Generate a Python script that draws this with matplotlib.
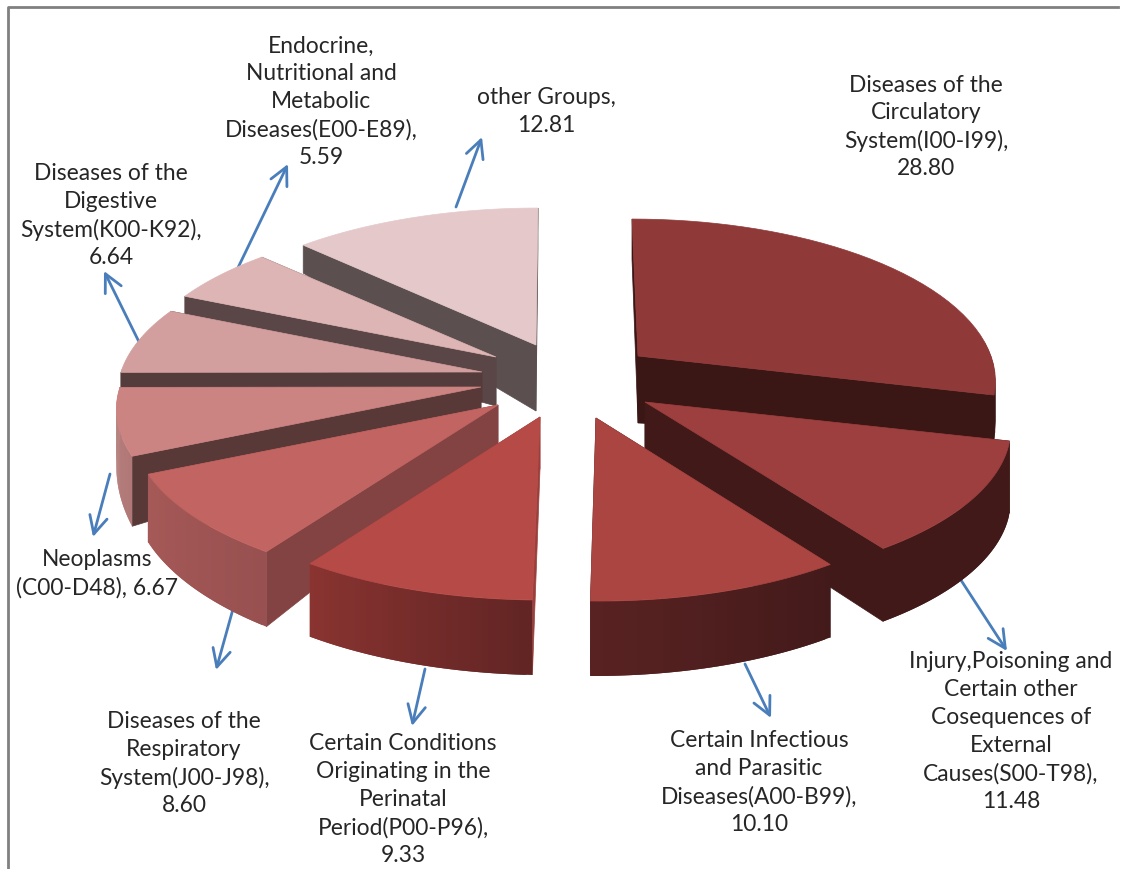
import numpy as np
import matplotlib
matplotlib.use("Agg")
import matplotlib.pyplot as plt

plt.rcParams['font.family'] = ['Lato', 'DejaVu Sans']

# data, clockwise from 12 o'clock
noms = ["Diseases of the\nCirculatory\nSystem(I00-I99),",
        "Injury,Poisoning and\nCertain other\nCosequences of\nExternal\nCauses(S00-T98),",
        "Certain Infectious\nand Parasitic\nDiseases(A00-B99),",
        "Certain Conditions\nOriginating in the\nPerinatal\nPeriod(P00-P96),",
        "Diseases of the\nRespiratory\nSystem(J00-J98),",
        "Neoplasms\n(C00-D48),",
        "Diseases of the\nDigestive\nSystem(K00-K92),",
        "Endocrine,\nNutritional and\nMetabolic\nDiseases(E00-E89),",
        "other Groups,"]
valeurs = [28.80, 11.48, 10.10, 9.33, 8.60, 6.67, 6.64, 5.59, 12.81]

# look of the slices
couleurs = ["#8F3938", "#9C3F3E", "#AA4542", "#B64A47", "#C26461",
            "#CB8482", "#D29E9E", "#DDB5B4", "#E5C9CA"]
faces = ["#3A1615", "#401918", "#431A1A", "#9A3F3B", "#834342",
         "#593838", "#553C3C", "#5A4646", "#5B504F"]
rim_debut = ["#3A1615", "#401918", "#431A1A", "#622524", "#985050",
             "#B07876", "#553C3C", "#5A4646", "#5B504F"]
rim_fin = ["#3A1615", "#401918", "#5A2222", "#8A3431", "#A65A58",
           "#B98584", "#553C3C", "#5A4646", "#5B504F"]
# pulled out position of each slice (like explode), pixels
apex_x = [638, 645, 596, 540, 498, 481, 482, 496, 536]
apex_y = [357, 403, 419, 418, 406, 388, 373, 358, 346]
# thickness: at the point, at first edge, at last edge
ep_apex = [67, 65, 60, 52, 39, 33, 30, 49, 66]
ep_debut = [40, 72, 73, 75, 75, 70, 30, 24, 28]
ep_fin = [45, 73, 75, 73, 68, 50, 30, 28, 40]
ordre = [8, 7, 6, 5, 0, 4, 1, 3, 2]

rayon_x = [353, 361, 360, 362, 362, 361, 361, 361, 361]
penche = [-6, -8, -4, -2, 0, 0, 0, 0, 2]
ry = 160
persp = 0.144

# labels: centre x, y of first line
label_x = [926, 1011, 759, 403, 184, 97, 111, 321, 546]
label_y = [85, 662, 741, 744, 722, 560, 174, 46, 98]
interligne = 27.9

# arrows from the pie to the labels
fleches = {1: (957, 575, 1007, 652), 2: (745, 665, 771, 719),
           3: (425, 670, 412, 727), 4: (233, 610, 216, 671),
           5: (110, 475, 93, 538), 6: (142, 349, 104, 272),
           7: (234, 277, 288, 165), 8: (456, 208, 482, 138)}


def bord(i, theta):
    t = np.radians(theta)
    s = 1 - persp * np.cos(t)
    x = apex_x[i] + rayon_x[i] * np.sin(t) * s + penche[i] * np.cos(t)
    y = apex_y[i] - ry * np.cos(t) * s
    return x, y


def melange(c1, c2, f):
    a = np.array(matplotlib.colors.to_rgb(c1))
    b = np.array(matplotlib.colors.to_rgb(c2))
    return a + (b - a) * f


fig = plt.figure(figsize=(11.26, 8.7), dpi=100)
ax = fig.add_axes([0, 0, 1, 1])
ax.set_xlim(0, 1126)
ax.set_ylim(870, 0)
ax.axis("off")

# chart frame, only top and left show
ax.plot([8, 8, 1118], [870, 8, 8], color="#808080", lw=2, zorder=1)

for k in fleches:
    x0, y0, x1, y1 = fleches[k]
    ax.annotate("", xy=(x1, y1), xytext=(x0, y0), zorder=2,
                arrowprops=dict(arrowstyle="->", color="#4A7EBB", lw=2,
                                mutation_scale=32, shrinkA=0, shrinkB=0))

cumul = np.cumsum([0] + valeurs)
angles = cumul / cumul[-1] * 360

z = 3
for i in ordre:
    a0, a1 = angles[i], angles[i + 1]
    ax0, ay0 = apex_x[i], apex_y[i]
    thetas = np.linspace(a0, a1, 40)

    # flat cut faces
    for th, ep in [(a0, ep_debut[i]), (a1, ep_fin[i])]:
        x, y = bord(i, th)
        ax.fill([ax0, x, x, ax0], [ay0, y, y + ep, ay0 + ep_apex[i]],
                color=faces[i], lw=0.5, zorder=z)
    z += 1

    # outer rim, front part only; strips overlap the next one so no seams show
    for j in range(len(thetas) - 1):
        t0, t1 = thetas[j], thetas[min(j + 2, len(thetas) - 1)]
        if t1 < 90 or t0 > 270:
            continue
        f0 = (t0 - a0) / (a1 - a0)
        f1 = (t1 - a0) / (a1 - a0)
        e0 = ep_debut[i] + (ep_fin[i] - ep_debut[i]) * f0
        e1 = ep_debut[i] + (ep_fin[i] - ep_debut[i]) * f1
        x0, y0 = bord(i, t0)
        x1, y1 = bord(i, t1)
        ax.fill([x0, x1, x1, x0], [y0, y1, y1 + e1, y0 + e0],
                color=melange(rim_debut[i], rim_fin[i], f0), lw=0, zorder=z)
    z += 1

    # top
    xs, ys = bord(i, thetas)
    ax.fill(np.r_[ax0, xs], np.r_[ay0, ys], color=couleurs[i], lw=0.5, zorder=z)
    z += 1

for i in range(len(noms)):
    lignes = noms[i].split("\n")
    if i == 5:
        lignes[-1] = lignes[-1] + " %.2f" % valeurs[i]
    else:
        lignes.append("%.2f" % valeurs[i])
    for n in range(len(lignes)):
        ax.text(label_x[i], label_y[i] + n * interligne, lignes[n], ha="center",
                va="center", fontsize=16.4, color="#262626", zorder=50)

fig.savefig("out.png", dpi=100)
